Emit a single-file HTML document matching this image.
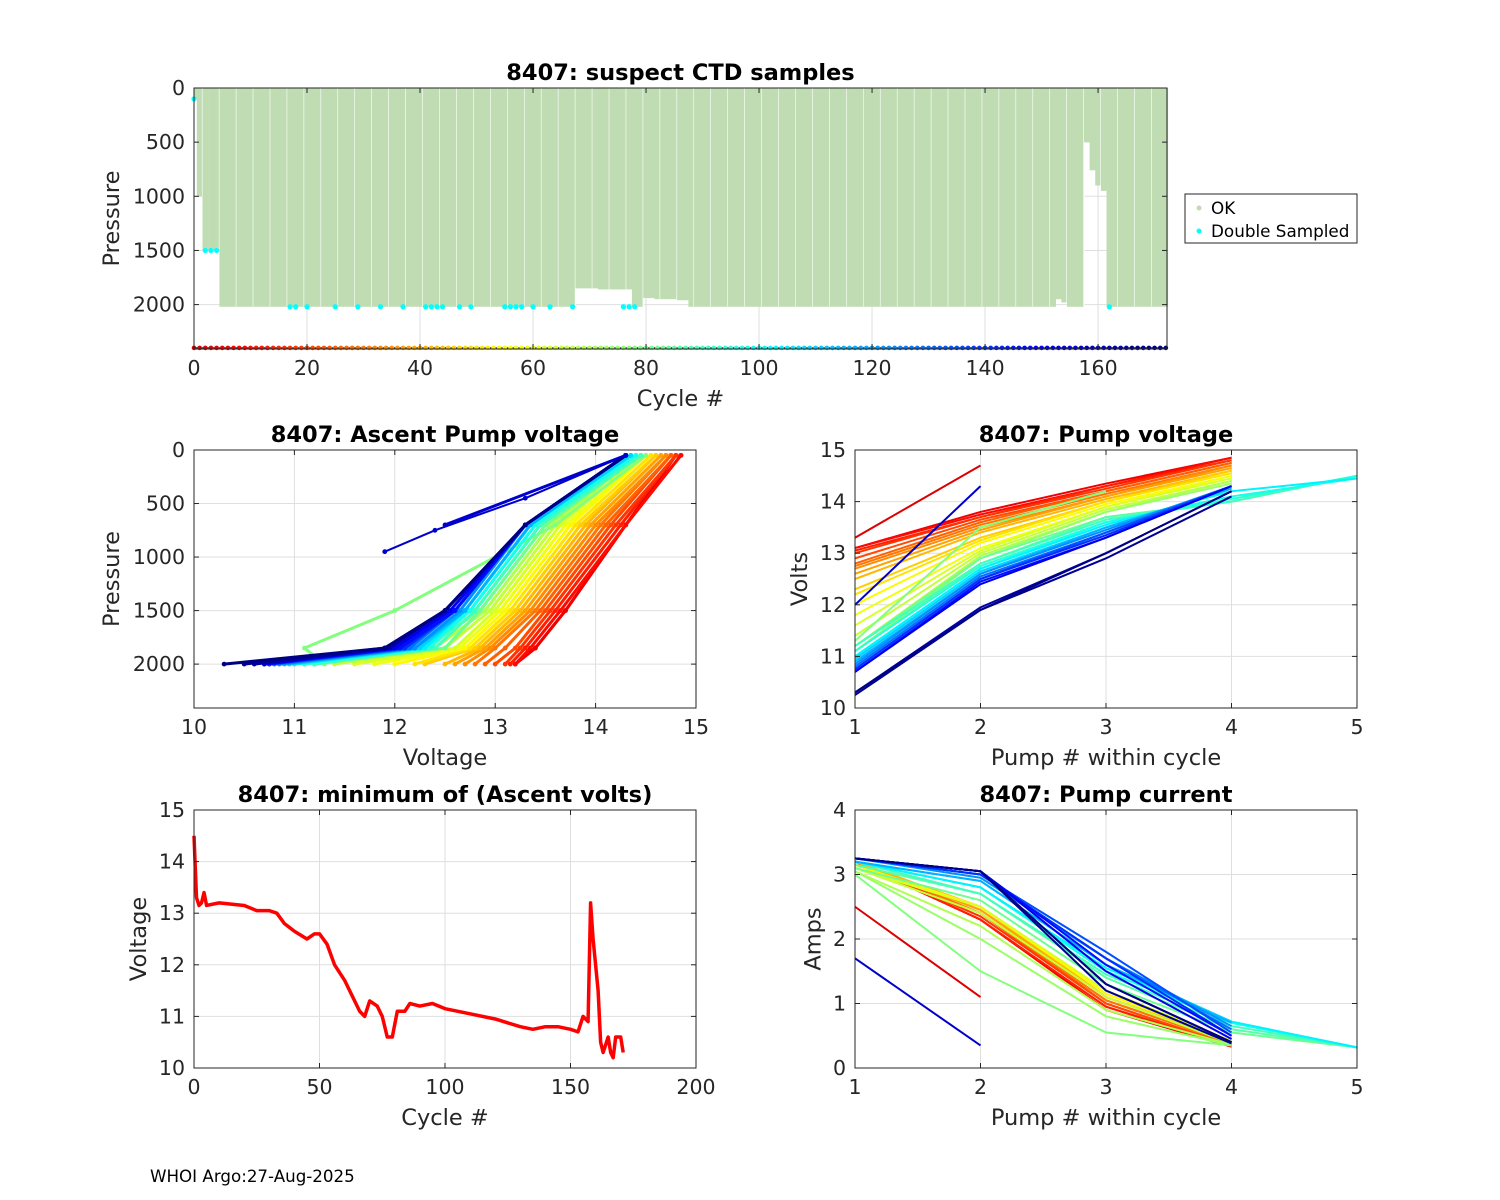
<!DOCTYPE html>
<html><head><meta charset="utf-8"><style>
body{margin:0;background:#fff;}
svg{display:block;font-family:"DejaVu Sans","Liberation Sans",sans-serif;}
</style></head><body>
<svg id="fig" width="1500" height="1200" viewBox="0 0 1500 1200" xmlns="http://www.w3.org/2000/svg">
<rect width="1500" height="1200" fill="#fff"/>
<text x="150" y="1182" font-size="16.7" fill="#000">WHOI Argo:27-Aug-2025</text>
</svg>
<script>
// ---------- data ----------
const depth=[100,1000,1500,1500,1500,2020,2020,2020,2020,2020,2020,2020,2020,2020,2020,2020,2020,2020,2020,2020,
2020,2020,2020,2020,2020,2020,2020,2020,2020,2020,2020,2020,2020,2020,2020,2020,2020,2020,2020,2020,
2020,2020,2020,2020,2020,2020,2020,2020,2020,2020,2020,2020,2020,2020,2020,2020,2020,2020,2020,2020,
2020,2020,2020,2020,2020,2020,2020,2020,1850,1850,1850,1850,1860,1860,1860,1860,1860,1860,2020,2020,
1940,1940,1950,1950,1950,1950,1960,1960,2020,2020,2020,2020,2020,2020,2020,2020,2020,2020,2020,2020,
2020,2020,2020,2020,2020,2020,2020,2020,2020,2020,2020,2020,2020,2020,2020,2020,2020,2020,2020,2020,
2020,2020,2020,2020,2020,2020,2020,2020,2020,2020,2020,2020,2020,2020,2020,2020,2020,2020,2020,2020,
2020,2020,2020,2020,2020,2020,2020,2020,2020,2020,2020,2020,2020,1950,1980,2020,2020,2020,500,760,
900,950,2020,2020,2020,2020,2020,2020,2020,2020,2020,2020,2020];
const dblCycles=[0,2,3,4,17,18,20,25,29,33,37,41,42,43,44,47,49,55,56,57,58,60,63,67,76,77,78,162];
const dblPress=[100,1500,1500,1500,2020,2020,2020,2020,2020,2020,2020,2020,2020,2020,2020,2020,2020,2020,2020,2020,2020,2020,2020,2020,2020,2020,2020,2020];
const minCycles=[0,1,2,3,4,5,10,20,25,30,33,36,40,45,48,50,53,56,60,63,66,68,70,73,75,77,79,81,84,86,90,95,100,110,120,130,135,140,145,150,153,155,157,158,159,160,161,162,163,165,166,167,168,170,171];
const minVolts=[14.5,13.3,13.15,13.2,13.4,13.15,13.2,13.15,13.05,13.05,13.0,12.8,12.65,12.5,12.6,12.6,12.4,12.0,11.7,11.4,11.1,11.0,11.3,11.2,11.0,10.6,10.6,11.1,11.1,11.25,11.2,11.25,11.15,11.05,10.95,10.8,10.75,10.8,10.8,10.75,10.7,11.0,10.9,13.2,12.5,12.0,11.5,10.5,10.3,10.6,10.3,10.2,10.6,10.6,10.3];
const repCycles=[2,6,10,14,18,22,26,30,34,38,42,46,50,54,58,62,66,70,74,78,82,86,90,94,98,104,110,116,122,128,134,140,146,152,158,164,168,171];
const pumpV1=[13.3,13.1,13.1,13.05,13.0,12.9,12.8,12.75,12.7,12.6,12.5,12.3,12.2,12.0,11.8,11.6,11.4,11.2,11.1,11.3,11.2,11.1,11.2,11.1,11.0,11.0,10.95,10.9,10.85,10.8,10.75,10.75,10.7,10.7,12.0,10.3,10.25,10.3];
const pumpV2=[14.7,13.8,13.75,13.7,13.7,13.65,13.6,13.55,13.5,13.45,13.4,13.3,13.25,13.2,13.1,13.05,13.0,12.95,12.9,13.5,12.9,12.8,12.8,12.75,12.7,12.7,12.65,12.6,12.6,12.55,12.5,12.5,12.45,12.4,14.3,11.95,11.9,11.9];
const pumpV3=[null,14.35,14.3,14.3,14.25,14.2,14.2,14.15,14.1,14.1,14.05,14.0,14.0,13.95,13.9,13.9,13.85,13.8,13.8,14.2,13.7,13.7,13.65,13.6,13.6,13.55,13.5,13.5,13.45,13.4,13.4,13.35,13.3,13.3,null,13.0,12.9,13.0];
const pumpV4=[null,14.85,14.85,14.8,14.8,14.75,14.75,14.7,14.7,14.65,14.6,14.6,14.55,14.5,14.5,14.45,14.4,14.4,14.35,null,14.0,14.0,14.0,14.05,14.1,14.2,14.25,14.25,14.3,14.3,14.3,14.3,14.3,14.3,null,14.2,14.1,14.2];
const pumpV5=[null,null,null,null,null,null,null,null,null,null,null,null,null,null,null,null,null,null,null,null,14.5,14.5,14.5,14.5,14.45,14.45,null,null,null,null,null,null,null,null,null,null,null,null];
const pumpC1=[2.5,3.2,3.2,3.2,3.2,3.2,3.2,3.2,3.2,3.2,3.2,3.15,3.15,3.15,3.1,3.1,3.1,3.05,3.05,3.0,3.1,3.15,3.2,3.2,3.2,3.2,3.2,3.2,3.25,3.25,3.25,3.25,3.25,3.25,1.7,3.25,3.25,3.25];
const pumpC2=[1.1,2.3,2.3,2.3,2.35,2.4,2.4,2.4,2.45,2.45,2.5,2.5,2.5,2.5,2.5,2.5,2.4,2.2,2.0,1.5,2.6,2.7,2.7,2.8,2.8,2.8,2.9,2.9,2.95,3.0,3.0,3.0,3.05,3.05,0.35,3.05,3.05,3.05];
const pumpC3=[null,0.9,0.95,0.95,1.0,1.0,1.05,1.05,1.1,1.1,1.1,1.15,1.15,1.15,1.2,1.2,1.1,0.9,0.8,0.55,1.3,1.4,1.45,1.5,1.5,1.55,1.6,1.6,1.7,1.7,1.8,1.7,1.6,1.5,null,1.3,1.2,1.3];
const pumpC4=[null,0.33,0.33,0.35,0.35,0.35,0.38,0.38,0.4,0.4,0.4,0.42,0.42,0.42,0.42,0.4,0.38,0.36,0.35,0.35,0.55,0.6,0.65,0.7,0.7,0.72,0.72,0.7,0.65,0.6,0.55,0.5,0.5,0.45,null,0.4,0.38,0.4];
const pumpC5=[null,null,null,null,null,null,null,null,null,null,null,null,null,null,null,null,null,null,null,null,0.32,0.32,0.32,0.32,0.32,0.32,null,null,null,null,null,null,null,null,null,null,null,null];
// ascent profile voltages at fixed pressures
const ascPress=[50,700,1500,1850,2000];
const asc50=[14.8,14.85,14.85,14.8,14.8,14.75,14.75,14.7,14.7,14.65,14.6,14.6,14.55,14.5,14.5,14.45,14.4,14.4,14.35,14.5,14.45,14.45,14.45,14.4,14.4,14.35,14.35,14.3,14.3,14.3,14.3,14.3,14.3,14.3,14.3,14.3,14.3,14.3];
const asc700=[14.3,14.3,14.3,14.25,14.2,14.15,14.1,14.05,14.0,13.95,13.9,13.85,13.8,13.75,13.7,13.65,13.6,13.55,13.5,13.6,13.5,13.45,13.45,13.4,13.4,13.35,13.35,13.35,13.3,13.3,13.3,13.3,13.3,13.3,12.5,13.3,13.3,13.3];
const asc1500=[13.7,13.7,13.65,13.6,13.55,13.5,13.45,13.4,13.35,13.3,13.25,13.2,13.15,13.1,13.05,13.0,12.95,12.9,12.85,12.0,12.85,12.8,12.8,12.75,12.75,12.7,12.7,12.7,12.65,12.6,12.6,12.6,12.6,12.55,null,12.5,12.5,12.5];
const asc1850=[13.4,13.4,13.35,13.3,13.25,13.2,13.1,13.0,12.95,12.9,12.85,12.8,12.75,12.7,12.65,12.6,12.5,12.4,12.3,11.1,12.5,12.4,12.4,12.35,12.3,12.3,12.25,12.2,12.2,12.15,12.1,12.1,12.05,12.0,null,11.95,11.9,11.9];
const asc2000=[13.2,13.2,13.2,13.15,13.1,13.0,12.9,12.8,12.7,12.6,12.5,12.3,12.2,12.0,11.8,11.6,11.4,11.2,11.1,11.3,11.2,11.1,11.2,11.1,11.0,11.0,10.95,10.9,10.85,10.8,10.75,10.75,10.7,10.7,null,10.6,10.5,10.3];
const shortProfPress=[50,450,750,950];
const shortProfVolt=[14.3,13.3,12.4,11.9];
const cycleTicks=[0,20,40,60,80,100,120,140,160];
const pressTicks=[0,500,1000,1500,2000];

// ---------- helpers ----------
const NS="http://www.w3.org/2000/svg";
const svg=document.getElementById('fig');
function mk(tag,attrs,parent){const e=document.createElementNS(NS,tag);for(const k in attrs)e.setAttribute(k,attrs[k]);(parent||svg).appendChild(e);return e;}
function jet(t){t=Math.max(0,Math.min(1,t));
 const r=Math.max(0,Math.min(1,1.5-Math.abs(4*t-3))),g=Math.max(0,Math.min(1,1.5-Math.abs(4*t-2))),b=Math.max(0,Math.min(1,1.5-Math.abs(4*t-1)));
 return `rgb(${Math.round(r*255)},${Math.round(g*255)},${Math.round(b*255)})`;}
function cyc(c){return jet(0.92-0.92*c/172);}
function axes(name,x0,y0,x1,y1,xmin,xmax,ymin,ymax,yRev,xt,yt,title,xl,yl){
 const g=mk('g',{});
 
 
 const sx=v=>x0+(v-xmin)/(xmax-xmin)*(x1-x0);
 const sy=v=>yRev? y0+(v-ymin)/(ymax-ymin)*(y1-y0) : y1-(v-ymin)/(ymax-ymin)*(y1-y0);
 mk('rect',{x:x0,y:y0,width:x1-x0,height:y1-y0,fill:'#fff'},g);
 const grid=mk('g',{},g);
 
 
 xt.forEach(v=>{mk('line',{x1:sx(v),x2:sx(v),y1:y0,y2:y1,stroke:'#dfdfdf','stroke-width':1},grid);});
 yt.forEach(v=>{mk('line',{y1:sy(v),y2:sy(v),x1:x0,x2:x1,stroke:'#dfdfdf','stroke-width':1},grid);});
 const plot=mk('g',{},g);
 const frame=mk('g',{},svg);
 
 
 mk('rect',{x:x0,y:y0,width:x1-x0,height:y1-y0,fill:'none',stroke:'#262626','stroke-width':1},frame);
 xt.forEach(v=>{mk('line',{x1:sx(v),x2:sx(v),y1:y1,y2:y1-5,stroke:'#262626'},frame);mk('line',{x1:sx(v),x2:sx(v),y1:y0,y2:y0+5,stroke:'#262626'},frame);
  const t=mk('text',{x:sx(v),y:y1+26,'font-size':20.5,'text-anchor':'middle',fill:'#262626'},frame);t.textContent=v;
  });
 let maxc=0;
 yt.forEach(v=>{maxc=Math.max(maxc,String(v).length);mk('line',{y1:sy(v),y2:sy(v),x1:x0,x2:x0+5,stroke:'#262626'},frame);mk('line',{y1:sy(v),y2:sy(v),x1:x1,x2:x1-5,stroke:'#262626'},frame);
  const t=mk('text',{x:x0-9,y:sy(v)+7,'font-size':20.5,'text-anchor':'end',fill:'#262626'},frame);t.textContent=v;
  });
 const tt=mk('text',{x:(x0+x1)/2,y:y0-8,'font-size':22.5,'font-weight':'bold','text-anchor':'middle',fill:'#000'},frame);tt.textContent=title;
 
 const xla=mk('text',{x:(x0+x1)/2,y:y1+57,'font-size':22.5,'text-anchor':'middle',fill:'#262626'},frame);xla.textContent=xl;
 
 const yx=x0-(27+maxc*13.5)+6, yy=(y0+y1)/2;
 const yla=mk('text',{x:yx,y:yy,'font-size':22.5,'text-anchor':'middle',fill:'#262626',transform:`rotate(-90 ${yx} ${yy})`},frame);yla.textContent=yl;
 
 return {sx,sy,plot};
}
function drawLine(A,pts,color,w,name,dots){
 const pl=mk('polyline',{points:pts.map(p=>p.join(',')).join(' '),fill:'none',stroke:color,'stroke-width':w,'stroke-linejoin':'round'},A.plot);
 
 
 if(dots)pts.forEach(p=>mk('circle',{cx:p[0],cy:p[1],r:2.4,fill:color},A.plot));
}

// ---------- top: suspect CTD ----------
(function(){
 const A=axes('ctd-samples-chart',194,88,1167,349,0,172.2,0,2410,true,cycleTicks,pressTicks,'8407: suspect CTD samples','Cycle #','Pressure');
 const w=A.sx(1)-A.sx(0);
 depth.forEach((d,c)=>{
  const x=A.sx(c)-w/2;
  const r=mk('rect',{x:Math.max(x,194.5),y:A.sy(0),width:w+0.3,height:A.sy(d)-A.sy(0),fill:'#bfdcb3'},A.plot);
  
  
  if(c%3===1){mk('line',{x1:x+w,x2:x+w,y1:A.sy(0),y2:A.sy(d),stroke:'#fff','stroke-width':1.2},A.plot);}
 });
 dblCycles.forEach((c,i)=>{
  const p=mk('circle',{cx:A.sx(c),cy:A.sy(dblPress[i]),r:2.6,fill:'#00ffff'},A.plot);
  
  
 });
 mk('line',{x1:194,x2:1167,y1:A.sy(2400),y2:A.sy(2400),stroke:'#000','stroke-width':1},A.plot);
 depth.forEach((d,c)=>{
  const p=mk('circle',{cx:A.sx(c),cy:A.sy(2400),r:2.3,fill:cyc(c)},A.plot);
  
  
 });
 const lg=mk('g',{});
 
 
 mk('rect',{x:1185,y:194,width:172,height:49,fill:'#fff',stroke:'#262626'},lg);
 mk('circle',{cx:1199,cy:208,r:2.5,fill:'#bfdcb3'},lg);
 mk('circle',{cx:1199,cy:231,r:2.5,fill:'#00ffff'},lg);
 const t1=mk('text',{x:1211,y:214,'font-size':16.8,fill:'#000'},lg);t1.textContent='OK';
 
 const t2=mk('text',{x:1211,y:237,'font-size':16.8,fill:'#000'},lg);t2.textContent='Double Sampled';
 
})();

// ---------- middle left: ascent pump voltage ----------
(function(){
 const A=axes('ascent-pump-voltage-chart',194,450,696,708,10,15,0,2410,true,[10,11,12,13,14,15],pressTicks,'8407: Ascent Pump voltage','Voltage','Pressure');
 repCycles.forEach((c,i)=>{
  const vs=[asc50[i],asc700[i],asc1500[i],asc1850[i],asc2000[i]];
  const pts=[];vs.forEach((v,k)=>{if(v!==null)pts.push([A.sx(v),A.sy(ascPress[k])]);});
  if(pts.length>1)drawLine(A,pts,cyc(c),3,'ascent-line',true);
 });
 const sp=shortProfVolt.map((v,k)=>[A.sx(v),A.sy(shortProfPress[k])]);
 drawLine(A,sp,cyc(158),2,'ascent-line-short-profile',true);
})();

// ---------- middle right: pump voltage ----------
(function(){
 const A=axes('pump-voltage-chart',855,450,1357,708,1,5,10,15,false,[1,2,3,4,5],[10,11,12,13,14,15],'8407: Pump voltage','Pump # within cycle','Volts');
 repCycles.forEach((c,i)=>{
  const vs=[pumpV1[i],pumpV2[i],pumpV3[i],pumpV4[i],pumpV5[i]];
  const pts=[];vs.forEach((v,k)=>{if(v!==null)pts.push([A.sx(k+1),A.sy(v)]);});
  drawLine(A,pts,cyc(c),2,'pump-voltage-line',false);
 });
})();

// ---------- bottom left: minimum ascent volts ----------
(function(){
 const A=axes('min-ascent-volts-chart',194,810,696,1068,0,200,10,15,false,[0,50,100,150,200],[10,11,12,13,14,15],'8407: minimum of (Ascent volts)','Cycle #','Voltage');
 const pl=mk('polyline',{points:minCycles.map((c,i)=>A.sx(c)+','+A.sy(minVolts[i])).join(' '),fill:'none',stroke:'#ff0000','stroke-width':3.5,'stroke-linejoin':'round'},A.plot);
 
 
})();

// ---------- bottom right: pump current ----------
(function(){
 const A=axes('pump-current-chart',855,810,1357,1068,1,5,0,4,false,[1,2,3,4,5],[0,1,2,3,4],'8407: Pump current','Pump # within cycle','Amps');
 repCycles.forEach((c,i)=>{
  const vs=[pumpC1[i],pumpC2[i],pumpC3[i],pumpC4[i],pumpC5[i]];
  const pts=[];vs.forEach((v,k)=>{if(v!==null)pts.push([A.sx(k+1),A.sy(v)]);});
  drawLine(A,pts,cyc(c),2,'pump-current-line',false);
 });
})();
</script>
</body></html>
